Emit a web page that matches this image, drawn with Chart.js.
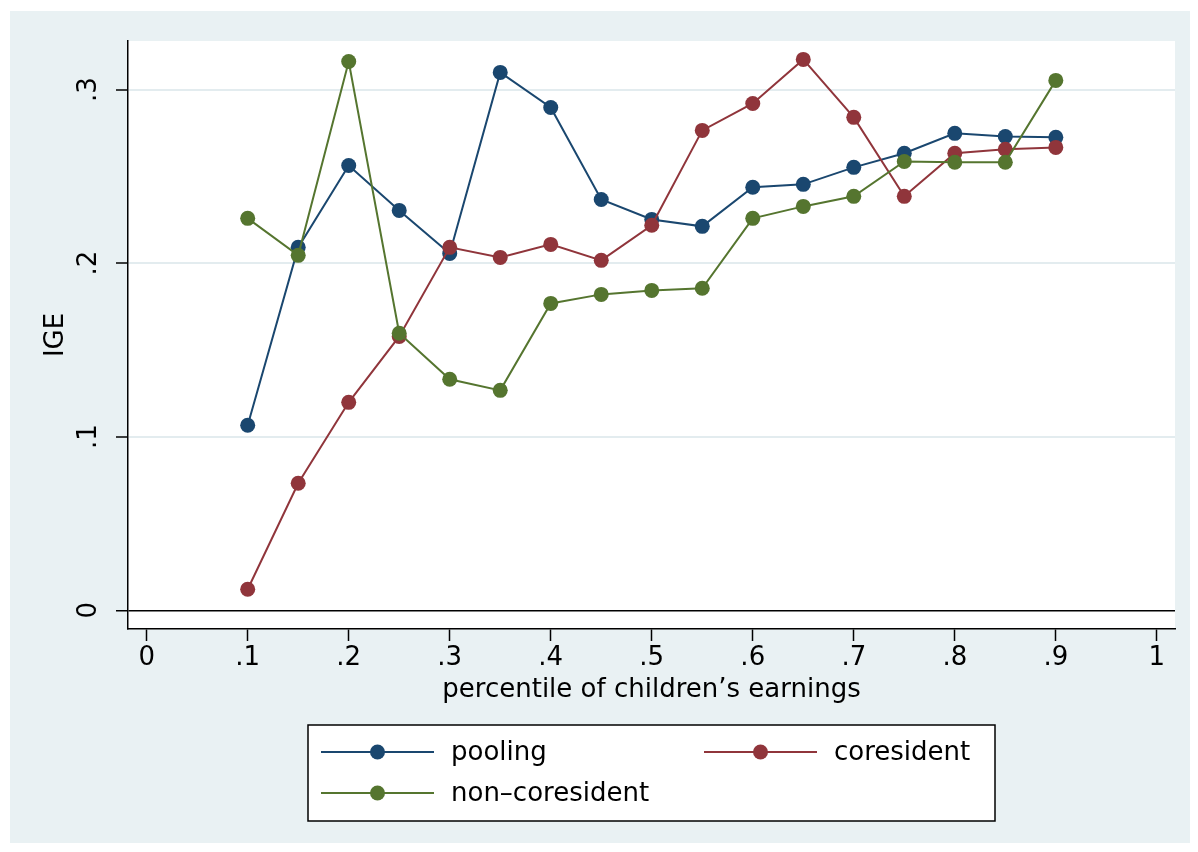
<!DOCTYPE html>
<html>
<head>
<meta charset="utf-8">
<script src="https://cdn.jsdelivr.net/npm/chart.js@4"></script>
<style>
  html, body { margin: 0; padding: 0; background: #ffffff; }
  canvas { display: block; }
</style>
</head>
<body>
<canvas id="igeChart" width="1198" height="852"></canvas>
<script>
// percentile points on the x axis
const percentiles = [0.10, 0.15, 0.20, 0.25, 0.30, 0.35, 0.40, 0.45, 0.50, 0.55, 0.60, 0.65, 0.70, 0.75, 0.80, 0.85, 0.90];

// IGE estimates
const pooling = [0.1066, 0.2091, 0.2563, 0.2304, 0.2056, 0.3099, 0.2897, 0.2367, 0.2252, 0.2212, 0.2437, 0.2454, 0.2552, 0.2633, 0.2748, 0.2730, 0.2725];
const coresident = [0.0121, 0.0732, 0.1198, 0.1578, 0.2091, 0.2033, 0.2108, 0.2016, 0.2218, 0.2765, 0.2920, 0.3174, 0.2840, 0.2385, 0.2633, 0.2656, 0.2667];
const nonCoresident = [0.2258, 0.2045, 0.3162, 0.1596, 0.1331, 0.1267, 0.1768, 0.1820, 0.1843, 0.1855, 0.2258, 0.2327, 0.2385, 0.2586, 0.2581, 0.2581, 0.3053];

// axis ticks
const xTicks = [0, 0.1, 0.2, 0.3, 0.4, 0.5, 0.6, 0.7, 0.8, 0.9, 1];
const xTickLabels = ['0', '.1', '.2', '.3', '.4', '.5', '.6', '.7', '.8', '.9', '1'];
const yTicks = [0, 0.1, 0.2, 0.3];
const yTickLabels = ['0', '.1', '.2', '.3'];

const seriesNames = ['pooling', 'coresident', 'non\u2013coresident'];

const BG = '#e9f1f3';
const FONT = '"DejaVu Sans", "Liberation Sans", Arial, sans-serif';
const TEXT_SIZE = 26;

Chart.defaults.font.family = FONT;
Chart.defaults.color = '#000';

const toPoints = (ys) => percentiles.map((x, i) => ({ x, y: ys[i] }));

function lineSet(label, values, color, order) {
    return {
        label,
        data: toPoints(values),
        borderColor: color,
        backgroundColor: color,
        pointBackgroundColor: color,
        pointBorderColor: color,
        borderWidth: 2,
        pointRadius: 7.5,
        pointBorderWidth: 0,
        tension: 0,
        fill: false,
        order
    };
}

// background: outer tinted region and white plot region (Stata s2color look)
const backdrop = {
    id: 'backdrop',
    beforeDraw(chart) {
        const { ctx, chartArea } = chart;
        ctx.save();
        ctx.fillStyle = '#ffffff';
        ctx.fillRect(0, 0, chart.width, chart.height);
        ctx.fillStyle = BG;
        ctx.fillRect(10, 11, 1180, 832);
        ctx.fillStyle = '#ffffff';
        ctx.fillRect(chartArea.left, chartArea.top, chartArea.right - chartArea.left, chartArea.bottom - chartArea.top);
        ctx.restore();
    }
};

// boxed two-column legend below the axis title
const boxLegend = {
    id: 'boxLegend',
    afterDraw(chart) {
        const { ctx } = chart;
        const box = { x: 308, y: 725, w: 687, h: 96 };
        const slots = [
            { lx: 321, ly: 752 },
            { lx: 704, ly: 752 },
            { lx: 321, ly: 793 }
        ];
        ctx.save();
        ctx.fillStyle = '#ffffff';
        ctx.fillRect(box.x, box.y, box.w, box.h);
        ctx.strokeStyle = '#000';
        ctx.lineWidth = 1.5;
        ctx.strokeRect(box.x, box.y, box.w, box.h);
        chart.data.datasets.forEach((ds, i) => {
            const s = slots[i];
            ctx.strokeStyle = ds.borderColor;
            ctx.lineWidth = 2;
            ctx.beginPath();
            ctx.moveTo(s.lx, s.ly);
            ctx.lineTo(s.lx + 113, s.ly);
            ctx.stroke();
            ctx.fillStyle = ds.borderColor;
            ctx.beginPath();
            ctx.arc(s.lx + 56.5, s.ly, 7.5, 0, Math.PI * 2);
            ctx.fill();
            ctx.fillStyle = '#000';
            ctx.font = TEXT_SIZE + 'px ' + FONT;
            ctx.textBaseline = 'middle';
            ctx.textAlign = 'left';
            ctx.fillText(ds.label, s.lx + 130, s.ly + 1.5);
        });
        ctx.restore();
    }
};

new Chart(document.getElementById('igeChart'), {
    type: 'line',
    data: {
        datasets: [
            lineSet(seriesNames[0], pooling, '#1a476f', 2),
            lineSet(seriesNames[1], coresident, '#90353b', 1),
            lineSet(seriesNames[2], nonCoresident, '#55752f', 0)
        ]
    },
    options: {
        responsive: false,
        devicePixelRatio: 1,
        animation: false,
        layout: { padding: { left: 40, top: 41, right: 23, bottom: 146 } },
        plugins: {
            legend: { display: false },
            tooltip: { enabled: false }
        },
        scales: {
            x: {
                type: 'linear',
                min: -0.0185,
                max: 1.018,
                afterFit(scale) { scale.height = 77; },
                afterBuildTicks(scale) { scale.ticks = xTicks.map(v => ({ value: v })); },
                ticks: {
                    font: { size: TEXT_SIZE },
                    color: '#000',
                    padding: 2,
                    maxRotation: 0,
                    callback: (v) => xTickLabels[xTicks.findIndex(t => Math.abs(t - v) < 1e-9)]
                },
                grid: {
                    drawOnChartArea: false,
                    drawTicks: true,
                    tickLength: 12,
                    tickColor: '#000',
                    tickWidth: 1.5
                },
                border: { display: true, color: '#000', width: 1.5 },
                title: {
                    display: true,
                    text: 'percentile of children\u2019s earnings',
                    font: { size: TEXT_SIZE },
                    color: '#000',
                    padding: { top: 0, bottom: 0 }
                }
            },
            y: {
                type: 'linear',
                min: -0.0108,
                max: 0.328,
                afterFit(scale) { scale.width = 88; },
                afterBuildTicks(scale) { scale.ticks = yTicks.map(v => ({ value: v })); },
                ticks: {
                    font: { size: TEXT_SIZE },
                    color: '#000',
                    padding: 14,
                    minRotation: 90,
                    maxRotation: 90,
                    crossAlign: 'center',
                    callback: (v) => yTickLabels[yTicks.findIndex(t => Math.abs(t - v) < 1e-9)]
                },
                grid: {
                    color: (c) => (c.tick && Math.abs(c.tick.value) < 1e-9 ? '#000' : '#e3ecef'),
                    lineWidth: (c) => (c.tick && Math.abs(c.tick.value) < 1e-9 ? 1.5 : 2),
                    tickLength: 12,
                    tickColor: '#000',
                    tickWidth: 1.5
                },
                border: { display: true, color: '#000', width: 1.5 },
                title: {
                    display: true,
                    text: 'IGE',
                    font: { size: TEXT_SIZE },
                    color: '#000',
                    padding: { top: 1, bottom: 0 }
                }
            }
        }
    },
    plugins: [backdrop, boxLegend]
});
</script>
</body>
</html>
